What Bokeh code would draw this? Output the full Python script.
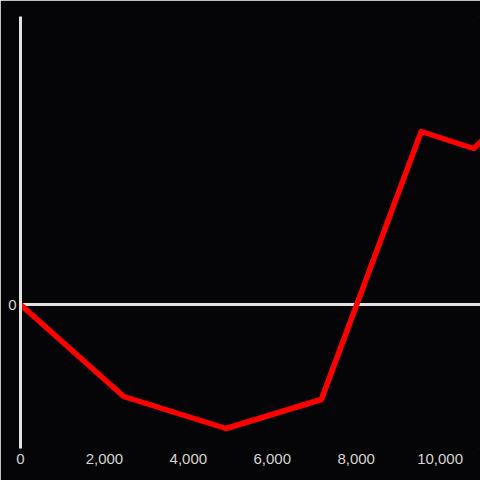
from bokeh.plotting import figure
from bokeh.models import Range1d, FixedTicker, NumeralTickFormatter, Span
from bokeh.embed import file_html
from bokeh.resources import INLINE

# data
x_vals = [0, 2460, 4900, 7170, 9550, 10800, 11800]
y_vals = [0, -92, -124, -95, 173, 156, 195]
x_ticks = [0, 2000, 4000, 6000, 8000, 10000]
y_ticks = [0]

BG = "#050407"
AX = "#e2e2e2"
TXT = "#d4d4d4"

p = figure(width=480, height=480, output_backend="svg", toolbar_location=None,
           x_range=Range1d(0, 10963), y_range=Range1d(-144, 288),
           min_border_left=20, min_border_right=0, min_border_top=16, min_border_bottom=32)
p.background_fill_color = BG
p.border_fill_color = BG
p.outline_line_color = BG
p.outline_line_width = 1
p.grid.visible = False

zero = Span(location=0, dimension="width", line_color=AX, line_width=3, level="underlay")
p.add_layout(zero)

p.line(x_vals, y_vals, line_color="#ff0000", line_width=5.5, line_join="round")

xa = p.xaxis[0]
xa.ticker = FixedTicker(ticks=x_ticks)
xa.formatter = NumeralTickFormatter(format="0,0")
xa.axis_line_color = None
xa.major_tick_line_color = None
xa.minor_tick_line_color = None
xa.major_tick_out = 0
xa.major_label_standoff = 5
xa.major_label_text_color = TXT
xa.major_label_text_font = "Liberation Sans"
xa.major_label_text_font_size = "15px"

ya = p.yaxis[0]
ya.ticker = FixedTicker(ticks=y_ticks)
ya.axis_line_color = AX
ya.axis_line_width = 3
ya.major_tick_line_color = None
ya.minor_tick_line_color = None
ya.major_tick_out = 0
ya.major_label_standoff = 4
ya.major_label_text_color = TXT
ya.major_label_text_font = "Liberation Sans"
ya.major_label_text_font_size = "15px"

open("out.html", "w").write(file_html(p, INLINE))
